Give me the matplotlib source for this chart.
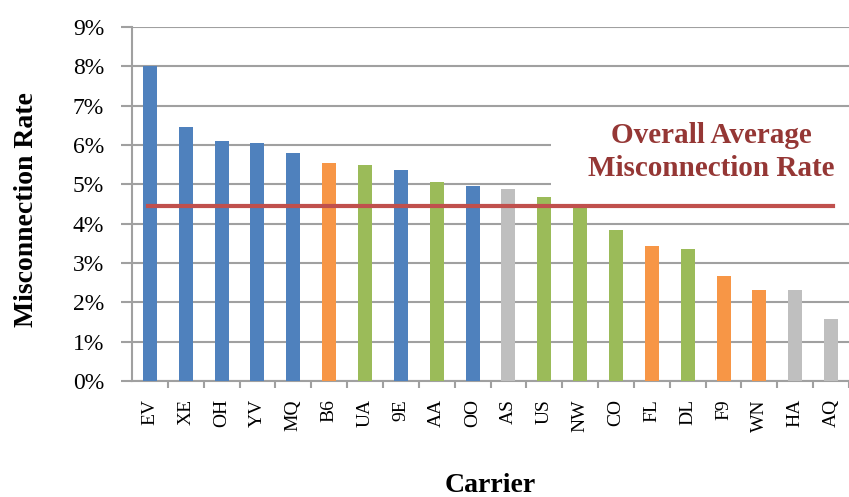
import numpy as np
import matplotlib.pyplot as plt
from matplotlib.patches import Rectangle
from matplotlib.ticker import PercentFormatter, MultipleLocator

carriers = ["EV", "XE", "OH", "YV", "MQ", "B6", "UA", "9E", "AA", "OO",
            "AS", "US", "NW", "CO", "FL", "DL", "F9", "WN", "HA", "AQ"]
rates = [8.0, 6.47, 6.10, 6.04, 5.80, 5.55, 5.49, 5.36, 5.07, 4.97,
         4.88, 4.69, 4.45, 3.84, 3.42, 3.35, 2.68, 2.31, 2.31, 1.58]
groups = ["b", "b", "b", "b", "b", "o", "g", "b", "g", "b",
          "s", "g", "g", "g", "o", "g", "o", "o", "s", "s"]
overall_avg = 4.45

palette = {"b": "#4F81BD", "o": "#F79646", "g": "#9BBB59", "s": "#BFBFBF"}
grid_col = "#A0A0A0"
serif = ["Liberation Serif", "DejaVu Serif"]

fig = plt.figure(figsize=(8.49, 4.97), dpi=100)
ax = fig.add_axes([132 / 849, 1 - 381 / 497, 717 / 849, 354 / 497])

x = np.arange(len(carriers))
ax.bar(x, rates, width=0.39, color=[palette[g] for g in groups], zorder=3)
ax.plot([-0.05, 19.05], [overall_avg, overall_avg], color="#C0504D", lw=3, zorder=6)

ax.set_ylim(0, 9)
ax.set_xlim(-0.5, 19.42)
ax.yaxis.set_major_locator(MultipleLocator(1))
ax.yaxis.set_major_formatter(PercentFormatter(decimals=0))
ax.grid(axis="y", color=grid_col, lw=1.5, zorder=0)
ax.set_axisbelow(True)

ax.set_xticks(x)
ax.set_xticklabels(carriers, rotation=90, fontfamily=serif, fontsize=14)
ax.set_xticks(np.arange(len(carriers)) + 0.5, minor=True)
ax.tick_params(axis="x", which="major", length=0, pad=13)
ax.tick_params(axis="x", which="minor", length=5, color=grid_col, width=1.5)
ax.tick_params(axis="y", length=8, color=grid_col, width=1.5, labelsize=17, pad=12)
for lbl in ax.get_yticklabels():
    lbl.set_fontfamily(serif)

for s in ["top", "right"]:
    ax.spines[s].set_visible(False)
for s in ["left", "bottom"]:
    ax.spines[s].set_color(grid_col)
    ax.spines[s].set_linewidth(1.5)

ax.set_ylabel("Misconnection Rate", fontfamily=serif, fontweight="bold", fontsize=20)
ax.yaxis.set_label_coords(-0.13, 0.483)
ax.set_xlabel("Carrier", fontfamily=serif, fontweight="bold", fontsize=20)
ax.xaxis.set_label_coords(0.5, -0.26)

# white panel behind the annotation hides the gridlines there
ax.add_patch(Rectangle((11.2, 4.75), 9, 2.1, facecolor="white", edgecolor="none", zorder=4))
ax.text(0.8075, 0.647, "Overall Average\nMisconnection Rate", transform=ax.transAxes,
        ha="center", va="center", fontfamily=serif, fontweight="bold", fontsize=21,
        color="#953735", linespacing=1.3, zorder=5)

fig.savefig("out.png", dpi=100)
